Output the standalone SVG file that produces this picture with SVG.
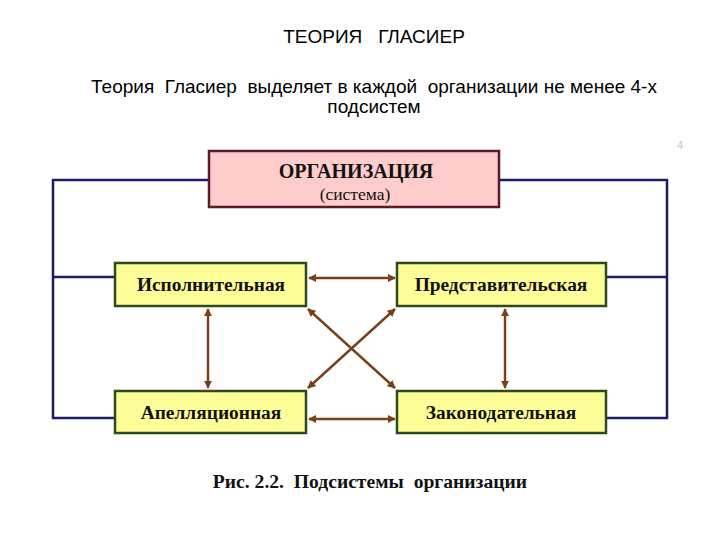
<svg xmlns="http://www.w3.org/2000/svg" width="720" height="540" viewBox="0 0 720 540">
<defs>
<marker id="ah" viewBox="0 0 10 10" refX="9" refY="5" markerWidth="3.4" markerHeight="3.4" orient="auto-start-reverse" markerUnits="strokeWidth">
<path d="M0,0 L10,5 L0,10 Z" fill="#7a3f17"/>
</marker>
<style>
.t{font-family:"Liberation Sans",Arial,sans-serif;fill:#000}
.frame{fill:none;stroke:#1c1c6b;stroke-width:2.5}
.arr{stroke:#7a3f17;stroke-width:2.4;fill:none;marker-start:url(#ah);marker-end:url(#ah)}
.box{fill:#ffff99;stroke:#2e4a1a;stroke-width:2.5}
.bt{font-family:"Liberation Serif","Times New Roman",serif;font-weight:bold;font-size:19.4px;fill:#111;text-anchor:middle}
</style>
</defs>
<rect width="720" height="540" fill="#fff"/>
<text class="t" x="374" y="43" font-size="19" text-anchor="middle" xml:space="preserve">ТЕОРИЯ   ГЛАСИЕР</text>
<text class="t" x="374" y="93" font-size="19" text-anchor="middle" xml:space="preserve">Теория  Гласиер  выделяет в каждой  организации не менее 4-х</text>
<text class="t" x="374" y="113" font-size="19" text-anchor="middle">подсистем</text>
<text x="680" y="149" font-family="Liberation Sans,Arial,sans-serif" font-size="11" fill="#c8c8c8" text-anchor="middle">4</text>
<g id="connectors">
<path class="frame" d="M209,180 H53 V418 H115 M499,180 H667 V418 H606 M53,277 H115 M606,277 H667"/>
<line class="arr" x1="309" y1="278" x2="395" y2="278"/>
<line class="arr" x1="309" y1="419" x2="395" y2="419"/>
<line class="arr" x1="208" y1="309" x2="208" y2="388"/>
<line class="arr" x1="505" y1="309" x2="505" y2="388"/>
<line class="arr" x1="308" y1="309" x2="395" y2="388"/>
<line class="arr" x1="395" y1="309" x2="308" y2="388"/>
</g>
<g id="org">
<rect x="209" y="151" width="290" height="56" fill="#ffcccc" stroke="#5a1a2a" stroke-width="2.5"/>
<text x="356" y="178" font-family="Liberation Serif,Times New Roman,serif" font-weight="bold" font-size="20" text-anchor="middle" fill="#111">ОРГАНИЗАЦИЯ</text>
<text x="355" y="200" font-family="Liberation Serif,Times New Roman,serif" font-size="17.5" text-anchor="middle" fill="#111">(система)</text>
</g>
<g id="ispoln">
<rect class="box" x="115" y="263" width="191" height="43"/>
<text class="bt" x="211" y="291">Исполнительная</text>
</g>
<g id="predst">
<rect class="box" x="397" y="263" width="209" height="43"/>
<text class="bt" x="501" y="291">Представительская</text>
</g>
<g id="apell">
<rect class="box" x="115" y="391" width="191" height="42"/>
<text class="bt" x="211" y="419">Апелляционная</text>
</g>
<g id="zakon">
<rect class="box" x="397" y="391" width="209" height="42"/>
<text class="bt" x="501" y="419">Законодательная</text>
</g>
<text x="370" y="488" font-family="Liberation Serif,Times New Roman,serif" font-weight="bold" font-size="19.6" text-anchor="middle" fill="#111" xml:space="preserve">Рис. 2.2.  Подсистемы  организации</text>
</svg>
